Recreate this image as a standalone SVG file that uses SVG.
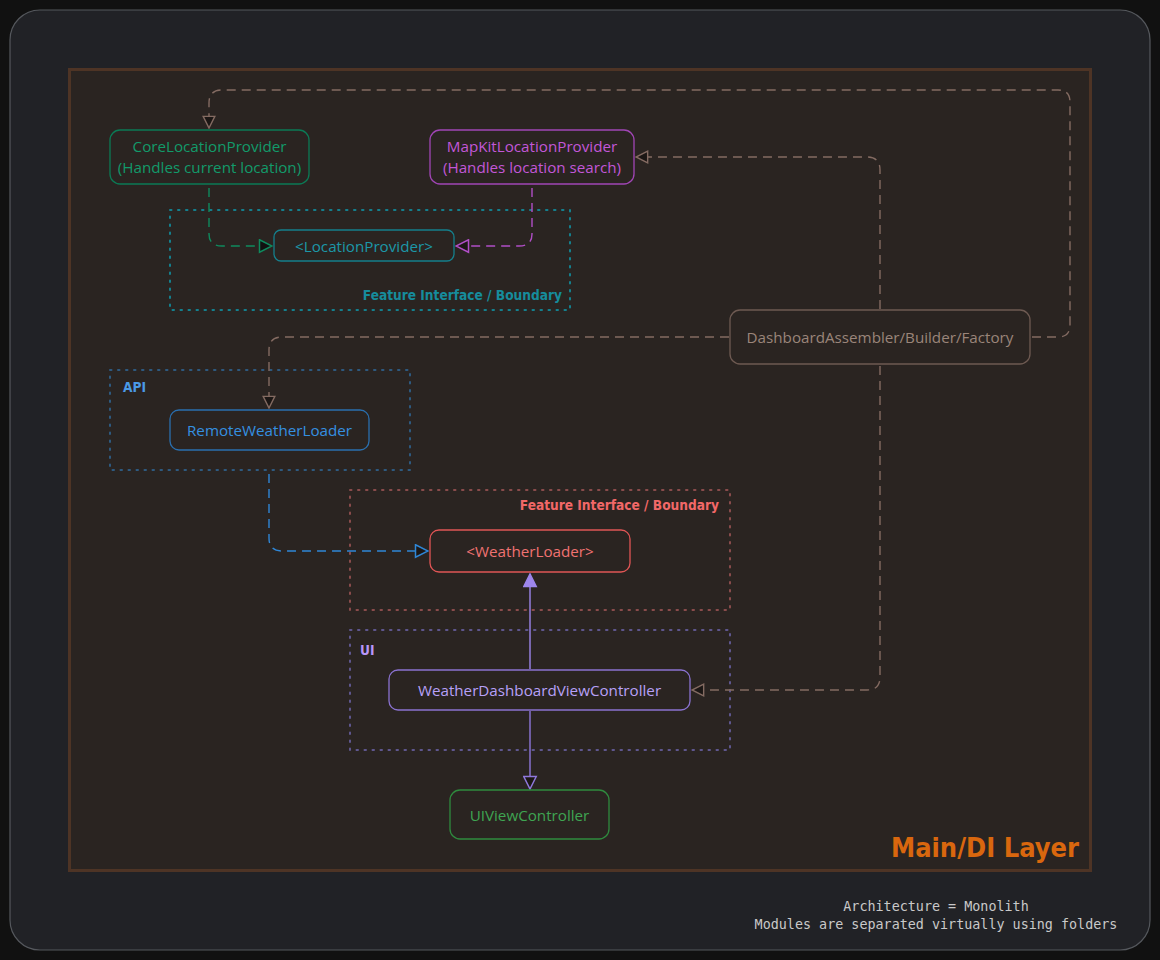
<svg xmlns="http://www.w3.org/2000/svg" width="1160" height="960" viewBox="0 0 1160 960">
<defs>
<style>
.node text{font-family:"Open Sans","Noto Sans",sans-serif;font-size:15.2px;text-anchor:middle;dominant-baseline:central}
.box{stroke-width:1.3}
.grp{fill:none;stroke-width:2;stroke-dasharray:1.5 6.5;stroke-linecap:round}
.glabel{font-family:"DejaVu Sans Condensed","DejaVu Sans",sans-serif;font-weight:bold;font-size:13.6px}
.edge{fill:none;stroke-width:1.4}
.dash{stroke-dasharray:9 6}
.foot{font-family:"DejaVu Sans Mono","Liberation Mono",monospace;font-size:13.4px;fill:#c9c9c9;text-anchor:middle}
</style>
<marker id="hb" viewBox="0 0 12 12" refX="11" refY="6" markerWidth="14" markerHeight="14" markerUnits="userSpaceOnUse" orient="auto">
<path d="M1 1 L11 6 L1 11 Z" fill="#1c1715" stroke="#846b62" stroke-width="1.2"/>
</marker>
<marker id="hg" viewBox="0 0 12 12" refX="11" refY="6" markerWidth="15" markerHeight="15" markerUnits="userSpaceOnUse" orient="auto">
<path d="M1 1 L11 6 L1 11 Z" fill="#111" stroke="#0f8a5e" stroke-width="1.2"/>
</marker>
<marker id="hp" viewBox="0 0 12 12" refX="11" refY="6" markerWidth="15" markerHeight="15" markerUnits="userSpaceOnUse" orient="auto">
<path d="M1 1 L11 6 L1 11 Z" fill="#1c1715" stroke="#b04ec6" stroke-width="1.2"/>
</marker>
<marker id="hbl" viewBox="0 0 12 12" refX="11" refY="6" markerWidth="15" markerHeight="15" markerUnits="userSpaceOnUse" orient="auto">
<path d="M1 1 L11 6 L1 11 Z" fill="#1c1715" stroke="#2f86d6" stroke-width="1.2"/>
</marker>
<marker id="hvf" viewBox="0 0 12 12" refX="11" refY="6" markerWidth="15" markerHeight="15" markerUnits="userSpaceOnUse" orient="auto">
<path d="M1 1 L11 6 L1 11 Z" fill="#9d86ec" stroke="#9d86ec" stroke-width="1.2"/>
</marker>
<marker id="hvh" viewBox="0 0 12 12" refX="11" refY="6" markerWidth="15" markerHeight="15" markerUnits="userSpaceOnUse" orient="auto">
<path d="M1 1 L11 6 L1 11 Z" fill="#1c1715" stroke="#8f78dc" stroke-width="1.2"/>
</marker>
</defs>
<rect x="0" y="0" width="1160" height="960" fill="#111111"/>
<rect x="10" y="10" width="1140" height="940" rx="30" fill="#212226" stroke="#55585d" stroke-width="1.2"/>
<rect x="69.5" y="69.5" width="1021" height="801" fill="#2a2421" stroke="#4e3425" stroke-width="3"/>
<text x="1079" y="857" font-family="DejaVu Sans Condensed,DejaVu Sans,sans-serif" font-weight="bold" font-size="27" fill="#d9670e" text-anchor="end">Main/DI Layer</text>

<g id="groups">
<g id="grp-location">
<rect class="grp" x="170" y="210" width="400" height="100" stroke="#14808e"/>
<text class="glabel" x="562" y="300" fill="#168c9c" text-anchor="end">Feature Interface / Boundary</text>
</g>
<g id="grp-api">
<rect class="grp" x="110" y="370" width="300" height="100" stroke="#2e5a80"/>
<text class="glabel" x="123" y="392" fill="#4a9ae6">API</text>
</g>
<g id="grp-weather">
<rect class="grp" x="350" y="490" width="380" height="120" stroke="#8a4c4c"/>
<text class="glabel" x="719" y="510" fill="#f26868" text-anchor="end">Feature Interface / Boundary</text>
</g>
<g id="grp-ui">
<rect class="grp" x="350" y="630" width="380" height="120" stroke="#5f578f"/>
<text class="glabel" x="360" y="655" fill="#b896f8">UI</text>
</g>
</g>

<g id="connectors">
<path class="edge dash" stroke="#846b62" d="M1032 337 L1058 337 Q1070 337 1070 325 L1070 102 Q1070 90 1058 90 L222 90 Q209 90 209 103 L209 128" marker-end="url(#hb)"/>
<path class="edge dash" stroke="#846b62" d="M880 309 L880 170 Q880 157 867 157 L636 157" marker-end="url(#hb)"/>
<path class="edge dash" stroke="#846b62" d="M729 337 L282 337 Q269 337 269 350 L269 408" marker-end="url(#hb)"/>
<path class="edge dash" stroke="#846b62" d="M880 366 L880 677 Q880 690 867 690 L692 690" marker-end="url(#hb)"/>
<path class="edge dash" stroke="#0f8a5e" d="M209 188 L209 234 Q209 246 222 246 L272 246" marker-end="url(#hg)"/>
<path class="edge dash" stroke="#b04ec6" d="M532 188 L532 234 Q532 246 519 246 L456 246" marker-end="url(#hp)"/>
<path class="edge dash" stroke="#2f86d6" stroke-dasharray="10 7" d="M269 474 L269 538 Q269 551 282 551 L428 551" marker-end="url(#hbl)"/>
<path class="edge" stroke="#9d86ec" d="M530 669 L530 574" marker-end="url(#hvf)"/>
<path class="edge" stroke="#8f78dc" d="M530 711 L530 789" marker-end="url(#hvh)"/>
</g>

<g id="node-core" class="node">
<rect class="box" x="110" y="130" width="199" height="54" rx="10" fill="#2a2421" stroke="#0b7a55"/>
<text x="209.5" y="146" fill="#129a6a">CoreLocationProvider</text>
<text x="209.5" y="167" fill="#129a6a">(Handles current location)</text>
</g>
<g id="node-mapkit" class="node">
<rect class="box" x="430" y="130" width="204" height="54" rx="10" fill="#2a2421" stroke="#a045b5"/>
<text x="532" y="146" fill="#c257d8">MapKitLocationProvider</text>
<text x="532" y="167" fill="#c257d8">(Handles location search)</text>
</g>
<g id="node-locprov" class="node">
<rect class="box" x="274" y="230" width="180" height="31" rx="7" fill="#2a2421" stroke="#157f8c"/>
<text x="364" y="245.5" fill="#1c97a8">&lt;LocationProvider&gt;</text>
</g>
<g id="node-assembler" class="node">
<rect class="box" x="730" y="310" width="300" height="54" rx="10" fill="#2a2421" stroke="#6e5a52"/>
<text x="880" y="337" fill="#9a857a">DashboardAssembler/Builder/Factory</text>
</g>
<g id="node-remote" class="node">
<rect class="box" x="170" y="410" width="199" height="40" rx="9" fill="#2a2421" stroke="#2a6fae"/>
<text x="269.5" y="430" fill="#3590e0">RemoteWeatherLoader</text>
</g>
<g id="node-weatherloader" class="node">
<rect class="box" x="430" y="530" width="200" height="42" rx="9" fill="#2a2421" stroke="#e05555"/>
<text x="530" y="551" fill="#f07272">&lt;WeatherLoader&gt;</text>
</g>
<g id="node-dashboardvc" class="node">
<rect class="box" x="389" y="670" width="301" height="40" rx="9" fill="#2a2421" stroke="#8a72d0"/>
<text x="539.5" y="690" fill="#b7a0f8">WeatherDashboardViewController</text>
</g>
<g id="node-uivc" class="node">
<rect class="box" x="450" y="790" width="159" height="49" rx="10" fill="#2a2421" stroke="#2f8a3e"/>
<text x="529.5" y="814.5" fill="#3fa552">UIViewController</text>
</g>

<text class="foot" x="936" y="911">Architecture = Monolith</text>
<text class="foot" x="936" y="929">Modules are separated virtually using folders</text>
</svg>
